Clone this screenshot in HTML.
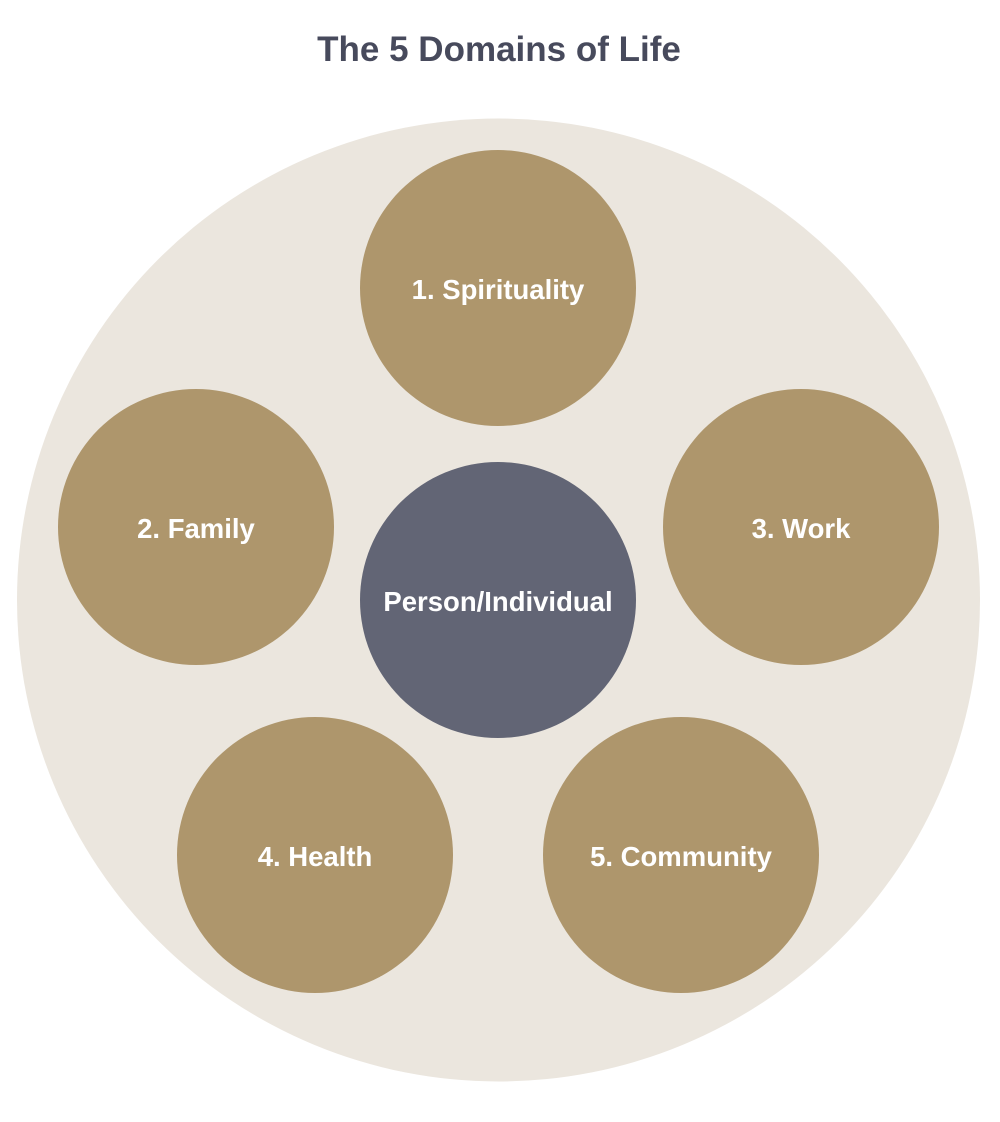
<!DOCTYPE html>
<html><head><style>
html,body{margin:0;padding:0;background:#fff;}
</style></head><body>
<svg width="1000" height="1117" viewBox="0 0 1000 1117" xmlns="http://www.w3.org/2000/svg">
<text x="499" y="61" text-anchor="middle" font-family="Liberation Sans, sans-serif" font-weight="bold" font-size="35" fill="#474a5c">The 5 Domains of Life</text>
<circle cx="498.5" cy="600" r="481.5" fill="#ebe6de"/>
<g fill="#ae966c">
<circle cx="498" cy="288" r="138"/>
<circle cx="196" cy="527" r="138"/>
<circle cx="801" cy="527" r="138"/>
<circle cx="315" cy="855" r="138"/>
<circle cx="681" cy="855" r="138"/>
</g>
<circle cx="498" cy="600" r="138" fill="#626575"/>
<g font-family="Liberation Sans, sans-serif" font-weight="bold" font-size="27.5" fill="#fff" text-anchor="middle">
<text x="498" y="299">1. Spirituality</text>
<text x="196" y="538">2. Family</text>
<text x="801" y="538">3. Work</text>
<text x="315" y="866">4. Health</text>
<text x="681" y="866">5. Community</text>
<text x="498" y="611">Person/Individual</text>
</g>
</svg>
</body></html>
